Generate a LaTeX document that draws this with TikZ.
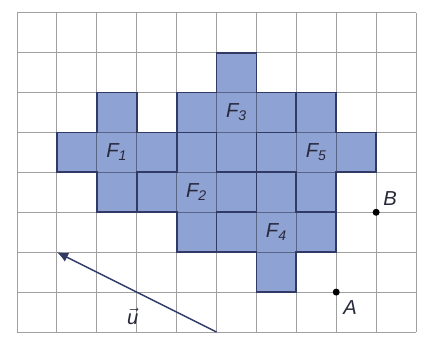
\documentclass[tikz,border=0pt]{standalone}
\usepackage{fontspec}
\setmainfont{Liberation Sans}
\usetikzlibrary{arrows.meta}
\definecolor{figfill}{RGB}{143,162,212}
\definecolor{figline}{RGB}{48,58,100}
\definecolor{gridc}{RGB}{160,160,160}
\definecolor{txt}{RGB}{40,42,60}
\tikzset{
  plusfig/.pic={
    \path[pic actions] (0,-1) -- (1,-1) -- (1,0) -- (2,0) -- (2,1) -- (1,1) -- (1,2)
      -- (0,2) -- (0,1) -- (-1,1) -- (-1,0) -- (0,0) -- cycle;
  },
  figlabel/.style={text=txt, font=\Large\itshape},
  ptlabel/.style={text=txt, font=\Large\itshape},
  dot/.style={circle, fill=black, inner sep=0pt, minimum size=5pt},
}
\begin{document}
\begin{tikzpicture}[x=1cm,y=1cm]
\useasboundingbox (-0.426,-0.15) rectangle (10.30,8.32);
\fill[white] (-0.426,-0.15) rectangle (10.30,8.32);
% fills
\foreach \a/\b in {2/4,5/5,7/4,4/3,6/2}
  \pic[fill=figfill] at (\a,\b) {plusfig};
% grid
\draw[gridc, line width=0.7pt, blend mode=multiply] (0,0) grid (10,8);
% outlines
\foreach \a/\b in {2/4,5/5,7/4,4/3,6/2}
  \pic[draw=figline, line width=1.3pt, line join=miter] at (\a,\b) {plusfig};
% labels
\node[figlabel] (f1) at (2.5,4.5) {F\textsubscript{1}};
\node[figlabel] (f3) at (5.5,5.5) {F\textsubscript{3}};
\node[figlabel] (f5) at (7.5,4.5) {F\textsubscript{5}};
\node[figlabel] (f2) at (4.5,3.5) {F\textsubscript{2}};
\node[figlabel] (f4) at (6.5,2.5) {F\textsubscript{4}};
% points
\node[dot] (B) at (9,3) {};
\node[dot] (A) at (8,1) {};
\node[ptlabel] (Bl) at (9.35,3.35) {B};
\node[ptlabel] (Al) at (8.35,0.6) {A};
% vector u
\coordinate (u0) at (5,0);
\coordinate (u1) at (1,2);
\draw[figline, line width=1pt, -{Latex[length=8pt,width=7pt]}] (u0) -- (u1);
\node[text=txt, font=\Large] (ul) at (2.9,0.4) {$\vec{\mbox{\Large\itshape u}}$};
\end{tikzpicture}
\end{document}
